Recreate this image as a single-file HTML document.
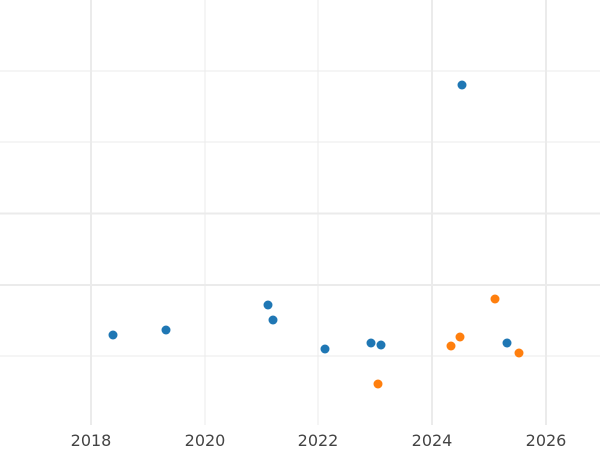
<!DOCTYPE html>
<html><head><style>body{margin:0;background:#fff}svg{display:block}</style></head><body>
<svg width="600" height="450" xmlns="http://www.w3.org/2000/svg">
<g stroke="#ebebeb" stroke-width="1">
<line x1="91" y1="0" x2="91" y2="425" stroke-width="2"/><line x1="205" y1="0" x2="205" y2="425"/><line x1="318" y1="0" x2="318" y2="425"/><line x1="432" y1="0" x2="432" y2="425" stroke-width="2"/><line x1="546" y1="0" x2="546" y2="425" stroke-width="2"/>
<line x1="0" y1="71" x2="600" y2="71"/><line x1="0" y1="142" x2="600" y2="142"/><line x1="0" y1="213.5" x2="600" y2="213.5" stroke-width="2"/><line x1="0" y1="285" x2="600" y2="285" stroke-width="2"/><line x1="0" y1="356" x2="600" y2="356"/>
</g>
<g font-family="DejaVu Sans, sans-serif" font-size="16" fill="#444" text-anchor="middle">
<text x="91" y="446">2018</text><text x="205" y="446">2020</text><text x="318" y="446">2022</text><text x="432" y="446">2024</text><text x="546" y="446">2026</text>
</g>
<g fill="#1f77b4">
<circle cx="113" cy="335" r="4.5"/><circle cx="166" cy="330" r="4.5"/><circle cx="268" cy="305" r="4.5"/><circle cx="273" cy="320" r="4.5"/><circle cx="325" cy="349" r="4.5"/><circle cx="371" cy="343" r="4.5"/><circle cx="381" cy="345" r="4.5"/><circle cx="462" cy="85" r="4.5"/><circle cx="507" cy="343" r="4.5"/>
</g>
<g fill="#ff7f0e">
<circle cx="378" cy="384" r="4.5"/><circle cx="451" cy="346" r="4.5"/><circle cx="460" cy="337" r="4.5"/><circle cx="495" cy="299" r="4.5"/><circle cx="519" cy="353" r="4.5"/>
</g>
</svg>
</body></html>
